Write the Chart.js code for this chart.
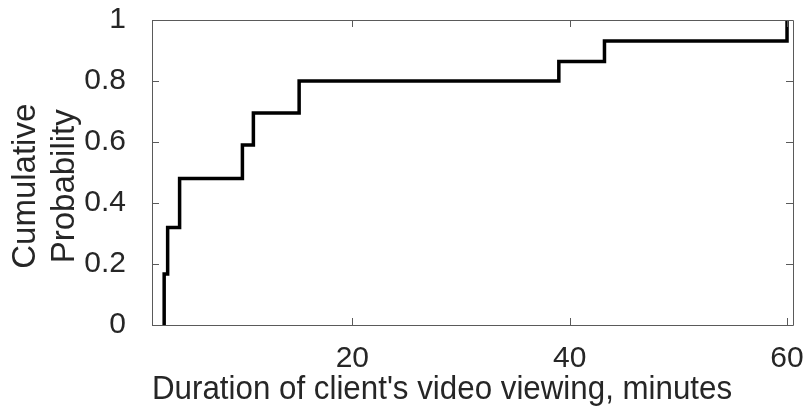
<!DOCTYPE html>
<html>
<head>
<meta charset="utf-8">
<script src="https://cdn.jsdelivr.net/npm/chart.js@4/dist/chart.umd.min.js"></script>
<style>
  html, body { margin: 0; padding: 0; background: #fff; }
  #wrap { width: 805px; height: 414px; }
</style>
</head>
<body>
<div id="wrap"><canvas id="cdf" width="805" height="414"></canvas></div>
<script>
  // ECDF of viewing duration (minutes)
  const durations = [2.68, 2.68, 3.0, 4.1, 9.88, 10.89, 15.1, 39.0, 43.2, 60.0];
  const cumProb = [0, 0.167, 0.32, 0.48, 0.59, 0.695, 0.80, 0.864, 0.931, 1.0];
  const xTicks = [20, 40, 60];
  const yTicks = [0, 0.2, 0.4, 0.6, 0.8, 1];

  const TEXT = '#262626';
  const AXIS = '#5a5a5a';
  const FAMILY = 'Liberation Sans, Arial, Helvetica, sans-serif';
  const TICK_FONT = { family: FAMILY, size: 30 };
  const TITLE_FONT = { family: FAMILY, size: 33 };

  // MATLAB-style box with inward ticks on all four sides
  const boxTicks = {
    id: 'boxTicks',
    afterDatasetsDraw (chart) {
      const { ctx, chartArea: a, scales } = chart;
      const len = 7;
      ctx.save();
      ctx.strokeStyle = AXIS;
      ctx.lineWidth = 1;
      ctx.beginPath();
      ctx.rect(a.left + 0.5, a.top + 0.5, a.right - a.left, a.bottom - a.top);
      xTicks.forEach(v => {
        const px = Math.round(scales.x.getPixelForValue(v)) + 0.5;
        ctx.moveTo(px, a.bottom); ctx.lineTo(px, a.bottom - len);
        ctx.moveTo(px, a.top); ctx.lineTo(px, a.top + len);
      });
      yTicks.forEach(v => {
        const py = Math.round(scales.y.getPixelForValue(v)) + 0.5;
        ctx.moveTo(a.left, py); ctx.lineTo(a.left + len, py);
        ctx.moveTo(a.right, py); ctx.lineTo(a.right - len, py);
      });
      ctx.stroke();
      ctx.restore();
    }
  };

  function noPad (s) {
    s.paddingTop = 0; s.paddingBottom = 0; s.paddingLeft = 0; s.paddingRight = 0;
  }

  new Chart(document.getElementById('cdf'), {
    type: 'line',
    data: {
      datasets: [{
        data: durations.map((d, i) => ({ x: d, y: cumProb[i] })),
        borderColor: '#000',
        borderWidth: 3.5,
        stepped: 'before',
        pointRadius: 0,
        fill: false,
        clip: false
      }]
    },
    options: {
      responsive: false,
      animation: false,
      layout: { padding: { top: 20, right: 12, left: 0, bottom: 0 } },
      plugins: { legend: { display: false }, tooltip: { enabled: false } },
      scales: {
        x: {
          type: 'linear',
          min: 1.56,
          max: 60.55,
          afterBuildTicks: s => { s.ticks = xTicks.map(v => ({ value: v })); },
          afterFit: s => { s.height = 89; noPad(s); },
          grid: { display: false },
          border: { display: false },
          ticks: { color: TEXT, font: TICK_FONT, padding: 8, maxRotation: 0 },
          title: {
            display: true,
            // trailing spaces nudge the label left like the original
            text: "Duration of client's video viewing, minutes       ",
            color: TEXT,
            font: TITLE_FONT,
            padding: { top: 0, bottom: 4 }
          }
        },
        y: {
          type: 'linear',
          min: 0,
          max: 1,
          afterBuildTicks: s => { s.ticks = yTicks.map(v => ({ value: v })); },
          afterFit: s => { s.width = 152; noPad(s); },
          grid: { display: false },
          border: { display: false },
          ticks: { color: TEXT, font: TICK_FONT, padding: 18, callback: v => String(v) },
          title: {
            display: true,
            text: ['Cumulative   ', 'Probability   '],
            color: TEXT,
            font: TITLE_FONT,
            padding: { top: 6, bottom: 0 }
          }
        }
      }
    },
    plugins: [boxTicks]
  });
</script>
</body>
</html>
